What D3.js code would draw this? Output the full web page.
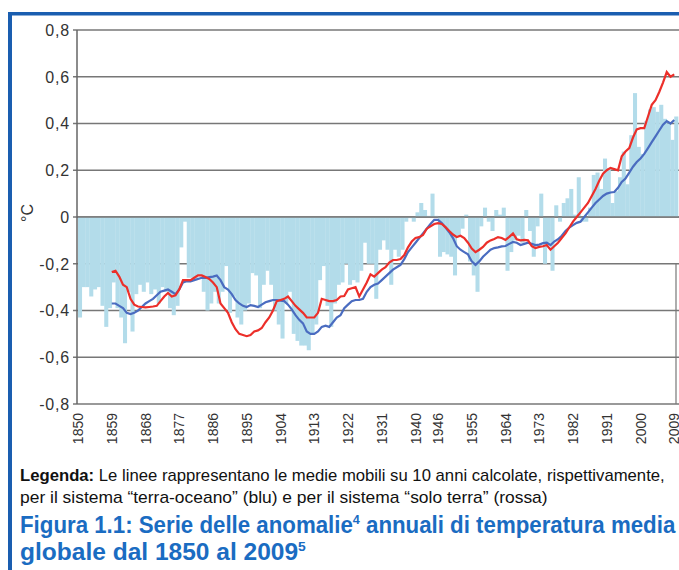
<!DOCTYPE html>
<html>
<head>
<meta charset="utf-8">
<script src="https://cdn.jsdelivr.net/npm/d3@7"></script>
<style>
  body { margin: 0; background: #fff; }
</style>
</head>
<body>
<div id="chart"></div>
<script>
// annual anomalies (°C), 1850..2009
const barYears = d3.range(1850, 2010);
const anomalies = [
  -0.43, -0.30, -0.30, -0.34, -0.31, -0.30, -0.38, -0.47, -0.39, -0.28,
  -0.39, -0.43, -0.54, -0.32, -0.49, -0.33, -0.29, -0.32, -0.28, -0.33,
  -0.31, -0.37, -0.30, -0.32, -0.39, -0.42, -0.38, -0.13, -0.02, -0.26,
  -0.26, -0.27, -0.25, -0.32, -0.40, -0.37, -0.32, -0.37, -0.32, -0.21,
  -0.41, -0.34, -0.43, -0.46, -0.40, -0.37, -0.24, -0.25, -0.39, -0.29,
  -0.23, -0.29, -0.40, -0.46, -0.52, -0.37, -0.32, -0.50, -0.53, -0.55,
  -0.55, -0.57, -0.50, -0.46, -0.27, -0.21, -0.38, -0.47, -0.37, -0.29,
  -0.28, -0.20, -0.29, -0.27, -0.28, -0.23, -0.11, -0.20, -0.20, -0.35,
  -0.14, -0.10, -0.14, -0.29, -0.14, -0.17, -0.14, -0.02, -0.005, -0.02,
  0.02, 0.06, 0.03, 0.005, 0.10, 0.005, -0.17, -0.15, -0.16, -0.17,
  -0.25, -0.08, -0.05, 0.01, -0.19, -0.25, -0.32, -0.04, 0.04, -0.02,
  -0.06, 0.03, 0.01, 0.04, -0.23, -0.15, -0.10, -0.08, -0.11, 0.03,
  -0.06, -0.17, -0.04, 0.10, -0.20, -0.11, -0.23, 0.05, -0.02, 0.06,
  0.08, 0.12, 0.01, 0.17, -0.02, -0.02, 0.04, 0.18, 0.19, 0.12,
  0.25, 0.21, 0.06, 0.11, 0.17, 0.28, 0.14, 0.35, 0.53, 0.30,
  0.27, 0.41, 0.46, 0.47, 0.45, 0.48, 0.42, 0.40, 0.33, 0.43
];

// 10-year moving averages, 1859..2009
const lineYears = d3.range(1859, 2010);
const landOcean = [
  -0.37, -0.37, -0.38, -0.39, -0.41, -0.415, -0.41, -0.40, -0.385, -0.37,
  -0.36, -0.35, -0.335, -0.32, -0.315, -0.31, -0.32, -0.33, -0.31, -0.28,
  -0.275, -0.275, -0.27, -0.265, -0.26, -0.26, -0.257, -0.255, -0.25, -0.27,
  -0.30, -0.31, -0.33, -0.355, -0.37, -0.38, -0.385, -0.377, -0.38, -0.385,
  -0.375, -0.365, -0.36, -0.355, -0.355, -0.358, -0.36, -0.375, -0.395, -0.42,
  -0.44, -0.455, -0.49, -0.50, -0.50, -0.49, -0.47, -0.465, -0.47, -0.45,
  -0.43, -0.42, -0.39, -0.375, -0.36, -0.355, -0.355, -0.35, -0.32, -0.30,
  -0.29, -0.285, -0.27, -0.255, -0.24, -0.225, -0.215, -0.205, -0.18, -0.15,
  -0.13, -0.11, -0.09, -0.07, -0.05, -0.03, -0.012, -0.012, -0.026, -0.045,
  -0.065, -0.09, -0.125, -0.14, -0.15, -0.16, -0.19, -0.205, -0.19, -0.17,
  -0.155, -0.14, -0.133, -0.13, -0.126, -0.124, -0.115, -0.107, -0.11, -0.12,
  -0.115, -0.11, -0.115, -0.12, -0.118, -0.112, -0.11, -0.12, -0.105, -0.095,
  -0.08, -0.06, -0.045, -0.035, -0.025, -0.02, 0.0, 0.02, 0.04, 0.06,
  0.075, 0.09, 0.10, 0.105, 0.107, 0.125, 0.15, 0.165, 0.19, 0.215,
  0.235, 0.25, 0.27, 0.295, 0.32, 0.345, 0.37, 0.395, 0.41, 0.40,
  0.415
];
const landOnly = [
  -0.235, -0.23, -0.255, -0.29, -0.30, -0.35, -0.375, -0.383, -0.385, -0.387,
  -0.385, -0.383, -0.38, -0.36, -0.34, -0.325, -0.34, -0.335, -0.31, -0.27,
  -0.27, -0.27, -0.26, -0.25, -0.25, -0.257, -0.265, -0.28, -0.30, -0.37,
  -0.39, -0.41, -0.45, -0.48, -0.50, -0.505, -0.51, -0.505, -0.49, -0.485,
  -0.475, -0.45, -0.43, -0.40, -0.36, -0.355, -0.35, -0.34, -0.36, -0.38,
  -0.395, -0.41, -0.43, -0.43, -0.43, -0.41, -0.35, -0.355, -0.36, -0.36,
  -0.355, -0.34, -0.338, -0.31, -0.305, -0.30, -0.34, -0.31, -0.28, -0.245,
  -0.255, -0.24, -0.225, -0.215, -0.195, -0.184, -0.184, -0.18, -0.163, -0.13,
  -0.105, -0.09, -0.086, -0.077, -0.05, -0.04, -0.03, -0.026, -0.03, -0.043,
  -0.06, -0.075, -0.086, -0.08, -0.09, -0.11, -0.135, -0.15, -0.14, -0.128,
  -0.11, -0.10, -0.094, -0.086, -0.09, -0.098, -0.085, -0.07, -0.095, -0.10,
  -0.098, -0.10, -0.125, -0.133, -0.128, -0.125, -0.12, -0.14, -0.125, -0.11,
  -0.09, -0.07, -0.045, -0.02, 0.0, 0.02, 0.04, 0.06, 0.09, 0.12,
  0.155, 0.185, 0.20, 0.21, 0.205, 0.20, 0.26, 0.28, 0.295, 0.34,
  0.375, 0.38, 0.38, 0.43, 0.48, 0.50, 0.535, 0.575, 0.62, 0.60,
  0.61
];

const xTickYears = [1850, 1859, 1868, 1877, 1886, 1895, 1904, 1913, 1922, 1931,
  1940, 1946, 1955, 1964, 1973, 1982, 1991, 2000, 2009];
const yTicks = [0.8, 0.6, 0.4, 0.2, 0, -0.2, -0.4, -0.6, -0.8];
const yTickLabels = ["0,8", "0,6", "0,4", "0,2", "0", "-0,2", "-0,4", "-0,6", "-0,8"];

const width = 679;
const height = 570;
const plotLeft = 77;
const plotRight = 679;

const x = d3.scaleLinear().domain([1850, 2009]).range([78, 674.25]);
const y = d3.scaleLinear().domain([-0.8, 0.8]).range([404, 30]);

const svg = d3.create("svg")
  .attr("width", width)
  .attr("height", height)
  .style("font-family", "'Liberation Sans', Arial, sans-serif");

document.getElementById("chart").append(svg.node());

// blue frame
svg.append("rect").attr("x", 8).attr("y", 12).attr("width", 4).attr("height", height - 12).attr("fill", "#1a5eb0");
svg.append("rect").attr("x", 8).attr("y", 12).attr("width", width - 8).attr("height", 3.5).attr("fill", "#1a5eb0");

// grid lines (under the bars)
svg.append("g")
  .selectAll("line")
  .data(yTicks)
  .join("line")
  .attr("x1", plotLeft - 4)
  .attr("x2", plotRight)
  .attr("y1", (d) => y(d))
  .attr("y2", (d) => y(d))
  .attr("stroke", "#777")
  .attr("stroke-width", 1.3);

// bars
svg.append("g")
  .selectAll("rect")
  .data(anomalies)
  .join("rect")
  .attr("x", (d, i) => x(barYears[i]))
  .attr("width", (d, i) => x(barYears[i] + 1) - x(barYears[i]) + 0.3)
  .attr("y", (d) => y(Math.max(0, d)))
  .attr("height", (d) => Math.abs(y(d) - y(0)))
  .attr("fill", "#b3dcea");

// zero line on top
svg.append("line")
  .attr("x1", plotLeft).attr("x2", plotRight)
  .attr("y1", y(0)).attr("y2", y(0))
  .attr("stroke", "#777").attr("stroke-width", 1.3);

// y axis line and right border
svg.append("line")
  .attr("x1", plotLeft).attr("x2", plotLeft)
  .attr("y1", y(0.8)).attr("y2", y(-0.8))
  .attr("stroke", "#666").attr("stroke-width", 1.5);
svg.append("line")
  .attr("x1", 676).attr("x2", 676)
  .attr("y1", y(-0.2)).attr("y2", y(-0.8))
  .attr("stroke", "#777").attr("stroke-width", 1.2);

// y tick labels
svg.append("g")
  .selectAll("text")
  .data(yTicks)
  .join("text")
  .attr("x", 70)
  .attr("y", (d) => y(d))
  .attr("dy", "0.36em")
  .attr("text-anchor", "end")
  .attr("font-size", 16)
  .attr("letter-spacing", 0.8)
  .attr("fill", "#333")
  .text((d, i) => yTickLabels[i]);

// x tick labels
svg.append("g")
  .selectAll("text")
  .data(xTickYears)
  .join("text")
  .attr("transform", (d) => `translate(${x(d)},413) rotate(-90)`)
  .attr("dy", "0.36em")
  .attr("text-anchor", "end")
  .attr("font-size", 14)
  .attr("fill", "#333")
  .text((d) => d);

// unit label
svg.append("text")
  .attr("transform", "translate(27,213) rotate(-90)")
  .attr("dy", "0.36em")
  .attr("text-anchor", "middle")
  .attr("font-size", 16)
  .attr("fill", "#333")
  .text("°C");

// moving averages
const line = d3.line()
  .x((d, i) => x(lineYears[i]))
  .y((d) => y(d));

svg.append("path")
  .attr("fill", "none")
  .attr("stroke", "#4a6cc0")
  .attr("stroke-width", 2.2)
  .attr("d", line(landOcean));

svg.append("path")
  .attr("fill", "none")
  .attr("stroke", "#ec2f2a")
  .attr("stroke-width", 2.2)
  .attr("d", line(landOnly));

// caption text, squeezed horizontally to the reference widths
const narrow = "'Liberation Sans Narrow', 'Arial Narrow', 'Liberation Sans', sans-serif";

function fit(sel, left, base, target) {
  const w = sel.node().getBBox().width;
  sel.attr("transform", `translate(${left},${base}) scale(${target / w},1)`);
}

const leg1 = svg.append("text")
  .attr("font-family", narrow)
  .attr("font-size", 16)
  .attr("fill", "#111");
leg1.append("tspan").attr("font-weight", "bold").text("Legenda:");
leg1.append("tspan").text(" Le linee rappresentano le medie mobili su 10 anni calcolate, rispettivamente,");
fit(leg1, 20, 481, 645);

const leg2 = svg.append("text")
  .attr("font-family", narrow)
  .attr("font-size", 16)
  .attr("fill", "#111")
  .text("per il sistema “terra-oceano” (blu) e per il sistema “solo terra” (rossa)");
fit(leg2, 20, 503, 528);

const t1 = svg.append("text")
  .attr("font-family", narrow)
  .attr("font-size", 23)
  .attr("font-weight", "bold")
  .attr("fill", "#1a6cc2");
t1.append("tspan").text("Figura 1.1: Serie delle anomalie");
t1.append("tspan").attr("font-size", 13).attr("dy", -9).text("4");
t1.append("tspan").attr("dy", 9).text(" annuali di temperatura media");
fit(t1, 20, 533, 656);

const t2 = svg.append("text")
  .attr("font-family", narrow)
  .attr("font-size", 23)
  .attr("font-weight", "bold")
  .attr("fill", "#1a6cc2");
t2.append("tspan").text("globale dal 1850 al 2009");
t2.append("tspan").attr("font-size", 13).attr("dy", -9).text("5");
fit(t2, 20, 560, 286);
</script>
</body>
</html>
